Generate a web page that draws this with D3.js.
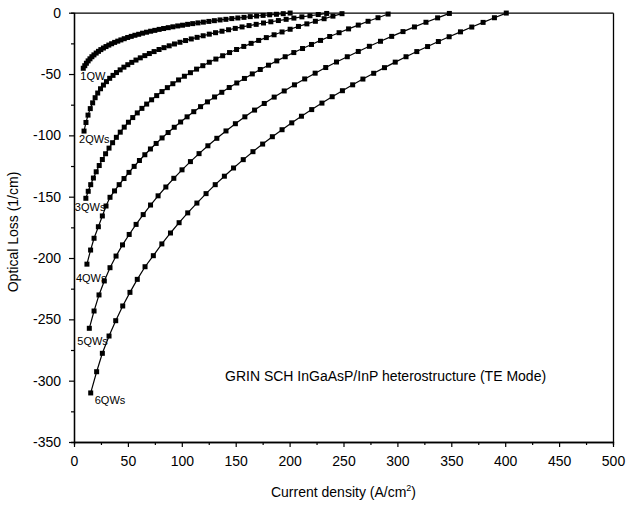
<!DOCTYPE html>
<html>
<head>
<meta charset="utf-8">
<script src="https://cdn.jsdelivr.net/npm/d3@7"></script>
<style>
  body { margin: 0; background: #fff; }
  svg { display: block; }
  text { font-family: "Liberation Sans", Arial, sans-serif; fill: #000; }
</style>
</head>
<body>
<div id="chart"></div>
<script>
"use strict";

// data: [current density (A/cm2), optical loss (1/cm)]
var qw1 = [[8.6,-45.3],[10.0,-43.2],[11.5,-41.2],[13.1,-39.3],[14.8,-37.6],[16.6,-35.9],[18.5,-34.4],[20.6,-32.9],[22.7,-31.5],[24.9,-30.1],[27.3,-28.8],[29.7,-27.6],[32.3,-26.4],[34.9,-25.3],[37.7,-24.2],[40.6,-23.2],[43.5,-22.2],[46.6,-21.2],[49.8,-20.2],[53.1,-19.3],[56.5,-18.4],[60.0,-17.6],[63.6,-16.7],[67.3,-15.9],[71.1,-15.1],[75.0,-14.4],[79.0,-13.6],[83.1,-12.9],[87.4,-12.2],[91.7,-11.5],[96.2,-10.8],[100.7,-10.2],[105.4,-9.5],[110.1,-8.9],[115.0,-8.3],[120.0,-7.7],[125.1,-7.1],[130.2,-6.5],[135.5,-5.9],[140.9,-5.4],[146.4,-4.8],[152.0,-4.3],[157.7,-3.8],[163.5,-3.2],[169.4,-2.7],[175.4,-2.2],[181.5,-1.7],[187.8,-1.3],[194.1,-0.8],[200.5,-0.3]];

var qw2 = [[9.3,-96.5],[11.1,-89.5],[13.0,-83.5],[15.1,-78.2],[17.3,-73.5],[19.6,-69.3],[22.0,-65.5],[24.6,-62.0],[27.3,-59.0],[30.1,-56.2],[33.1,-53.5],[36.2,-51.1],[39.4,-48.8],[42.8,-46.6],[46.3,-44.4],[49.9,-42.4],[53.6,-40.5],[57.5,-38.6],[61.5,-36.8],[65.7,-35.0],[69.9,-33.3],[74.3,-31.7],[78.9,-30.0],[83.5,-28.5],[88.3,-27.0],[93.2,-25.5],[98.3,-24.1],[103.5,-22.7],[108.8,-21.4],[114.2,-20.1],[119.8,-18.8],[125.5,-17.5],[131.3,-16.3],[137.3,-15.1],[143.4,-13.9],[149.6,-12.8],[155.9,-11.6],[162.4,-10.5],[169.0,-9.5],[175.8,-8.4],[182.6,-7.4],[189.6,-6.4],[196.8,-5.4],[204.0,-4.4],[211.4,-3.4],[218.9,-2.5],[226.6,-1.5],[234.4,-0.6]];

var qw3 = [[11.0,-151.3],[13.2,-145.6],[15.5,-140.2],[18.0,-134.8],[20.6,-129.7],[23.4,-124.6],[26.3,-119.7],[29.3,-115.0],[32.5,-110.4],[35.8,-106.0],[39.3,-101.6],[42.9,-97.4],[46.6,-93.3],[50.5,-89.3],[54.5,-85.5],[58.7,-81.7],[63.0,-78.0],[67.4,-74.5],[72.0,-71.0],[76.7,-67.6],[81.6,-64.3],[86.6,-61.1],[91.7,-57.9],[97.0,-54.8],[102.4,-51.8],[108.0,-48.9],[113.7,-46.0],[119.5,-43.2],[125.5,-40.4],[131.6,-37.8],[137.9,-35.1],[144.3,-32.5],[150.8,-30.0],[157.5,-27.5],[164.3,-25.0],[171.3,-22.6],[178.4,-20.3],[185.6,-18.0],[193.0,-15.7],[200.5,-13.5],[208.2,-11.2],[216.0,-9.1],[223.9,-7.0],[232.0,-4.9],[240.2,-2.8],[248.6,-0.8]];

var qw4 = [[12.0,-205.0],[15.4,-193.5],[18.6,-183.9],[22.6,-174.5],[26.3,-165.7],[29.7,-157.6],[33.4,-150.5],[37.6,-145.3],[41.9,-140.2],[46.4,-135.2],[51.0,-130.2],[55.8,-125.3],[60.7,-120.5],[65.7,-115.8],[70.9,-111.1],[76.2,-106.6],[81.7,-102.1],[87.3,-97.7],[93.0,-93.4],[98.9,-89.1],[104.9,-84.9],[111.1,-80.7],[117.4,-76.6],[123.8,-72.7],[130.4,-68.7],[137.1,-64.9],[144.0,-61.0],[151.0,-57.3],[158.1,-53.6],[165.4,-49.9],[172.8,-46.3],[180.4,-42.8],[188.1,-39.3],[195.9,-35.9],[203.9,-32.5],[212.0,-29.2],[220.3,-25.9],[228.7,-22.6],[237.2,-19.4],[245.9,-16.3],[254.7,-13.2],[263.7,-10.1],[272.8,-7.0],[282.0,-4.1],[291.4,-1.1]];

var qw5 = [[14.2,-257.3],[18.6,-243.2],[23.2,-230.1],[28.1,-218.7],[33.4,-207.9],[39.0,-198.4],[45.0,-189.3],[51.2,-180.8],[57.6,-172.6],[64.2,-164.6],[71.0,-156.8],[78.0,-149.3],[85.2,-142.1],[92.6,-135.0],[100.2,-128.1],[108.0,-121.4],[116.0,-114.9],[124.2,-108.5],[132.5,-102.4],[141.0,-96.4],[149.7,-90.5],[158.5,-84.9],[167.5,-79.4],[176.5,-74.0],[185.7,-68.8],[195.0,-63.8],[204.5,-58.8],[214.0,-54.0],[223.7,-49.3],[233.5,-44.7],[243.5,-40.2],[253.5,-35.9],[263.7,-31.6],[274.0,-27.4],[284.3,-23.3],[294.7,-19.3],[305.2,-15.4],[315.8,-11.6],[326.5,-7.8],[337.3,-4.2],[348.2,-0.6]];

var qw6 = [[15.5,-310.0],[21.0,-292.7],[26.3,-277.7],[32.5,-263.6],[38.7,-251.1],[45.2,-239.1],[51.9,-228.0],[58.7,-217.4],[65.9,-207.1],[73.6,-198.1],[81.5,-188.5],[89.5,-179.6],[97.5,-171.2],[105.5,-163.2],[114.0,-155.2],[122.5,-147.5],[131.0,-140.2],[139.5,-133.3],[148.0,-126.6],[157.0,-119.8],[166.0,-113.3],[175.0,-107.1],[184.0,-101.1],[193.0,-95.4],[202.0,-89.8],[211.0,-84.4],[220.5,-79.0],[230.0,-73.7],[239.5,-68.5],[249.0,-63.6],[258.5,-58.8],[268.0,-54.1],[278.0,-49.4],[288.0,-44.8],[298.0,-40.3],[308.0,-35.9],[318.0,-31.7],[328.0,-27.6],[338.0,-23.5],[348.0,-19.6],[358.5,-15.6],[369.0,-11.7],[379.5,-7.9],[390.0,-4.1],[401.0,-0.3]];

var seriesNames = ["1QW", "2QWs", "3QWs", "4QWs", "5QWs", "6QWs"];
var xTicks = [0, 50, 100, 150, 200, 250, 300, 350, 400, 450, 500];
var yTicks = [-350, -300, -250, -200, -150, -100, -50, 0];
var noteText = "GRIN SCH InGaAsP/InP heterostructure (TE Mode)";

// layout
var width = 626, height = 507;
var plotLeft = 74, plotRight = 613, plotTop = 12.7, plotBottom = 442;
var markerSize = 5;
// label offsets (px) from each curve's first point
var labelShift = [[-3, 12], [-5, 12], [-11, 13], [-11, 18], [-12, 17], [4, 11]];

var series = [qw1, qw2, qw3, qw4, qw5, qw6];

var x = d3.scaleLinear().domain([0, 500]).range([plotLeft, plotRight]);
var y = d3.scaleLinear().domain([-350, 0]).range([plotBottom, plotTop]);

var svg = d3.select("#chart")
  .append("svg")
  .attr("width", width)
  .attr("height", height);

// axes
function styleAxis(g) {
  g.selectAll("path.domain").attr("stroke", "#000").attr("stroke-width", 1.3);
  g.selectAll(".tick line").attr("stroke", "#000").attr("stroke-width", 1.2);
  g.selectAll(".tick text").style("font-size", "14px").style("font-family", "'Liberation Sans', Arial, sans-serif");
}

var minorX = xTicks.slice(0, -1).map(function(t) { return t + 25; });
var minorY = yTicks.slice(0, -1).map(function(t) { return t + 25; });

svg.append("g")
  .attr("transform", "translate(0," + plotBottom + ")")
  .call(d3.axisBottom(x).tickValues(minorX).tickSize(3).tickFormat(""))
  .call(styleAxis);
svg.append("g")
  .attr("transform", "translate(0," + plotBottom + ")")
  .call(d3.axisBottom(x).tickValues(xTicks).tickSize(5).tickSizeOuter(0).tickPadding(9).tickFormat(function(d) { return String(d); }))
  .call(styleAxis);

svg.append("g")
  .attr("transform", "translate(" + plotLeft + ",0)")
  .call(d3.axisLeft(y).tickValues(minorY).tickSize(3).tickFormat(""))
  .call(styleAxis);
svg.append("g")
  .attr("transform", "translate(" + plotLeft + ",0)")
  .call(d3.axisLeft(y).tickValues(yTicks).tickSize(5).tickSizeOuter(0).tickPadding(8).tickFormat(function(d) { return String(d); }))
  .call(styleAxis);

svg.append("g")
  .attr("transform", "translate(0," + plotTop + ")")
  .call(d3.axisTop(x).tickValues([]).tickSizeOuter(0))
  .call(styleAxis);
svg.append("g")
  .attr("transform", "translate(" + plotRight + ",0)")
  .call(d3.axisRight(y).tickValues([]).tickSizeOuter(0))
  .call(styleAxis);

// axis titles
var xTitle = svg.append("text")
  .attr("x", (plotLeft + plotRight) / 2)
  .attr("y", 497)
  .attr("text-anchor", "middle")
  .style("font-size", "14px");
xTitle.append("tspan").text("Current density (A/cm");
xTitle.append("tspan").attr("dy", -6).style("font-size", "9px").text("2");
xTitle.append("tspan").attr("dy", 6).text(")");

svg.append("text")
  .attr("transform", "translate(18," + 232 + ") rotate(-90)")
  .attr("text-anchor", "middle")
  .style("font-size", "14px")
  .text("Optical Loss (1/cm)");

// curves
var line = d3.line()
  .x(function(d) { return x(d[0]); })
  .y(function(d) { return y(d[1]); });

var plot = svg.append("g");

series.forEach(function(data, i) {
  plot.append("path")
    .datum(data)
    .attr("fill", "none")
    .attr("stroke", "#000")
    .attr("stroke-width", 1.2)
    .attr("d", line);

  plot.append("g")
    .selectAll("rect")
    .data(data)
    .enter()
    .append("rect")
      .attr("x", function(d) { return x(d[0]) - markerSize / 2; })
      .attr("y", function(d) { return y(d[1]) - markerSize / 2; })
      .attr("width", markerSize)
      .attr("height", markerSize)
      .attr("fill", "#000");

  plot.append("text")
    .attr("x", x(data[0][0]) + labelShift[i][0])
    .attr("y", y(data[0][1]) + labelShift[i][1])
    .style("font-size", "11px")
    .text(seriesNames[i]);
});

svg.append("text")
  .attr("x", 225)
  .attr("y", 381)
  .style("font-size", "14px")
  .text(noteText);
</script>
</body>
</html>
